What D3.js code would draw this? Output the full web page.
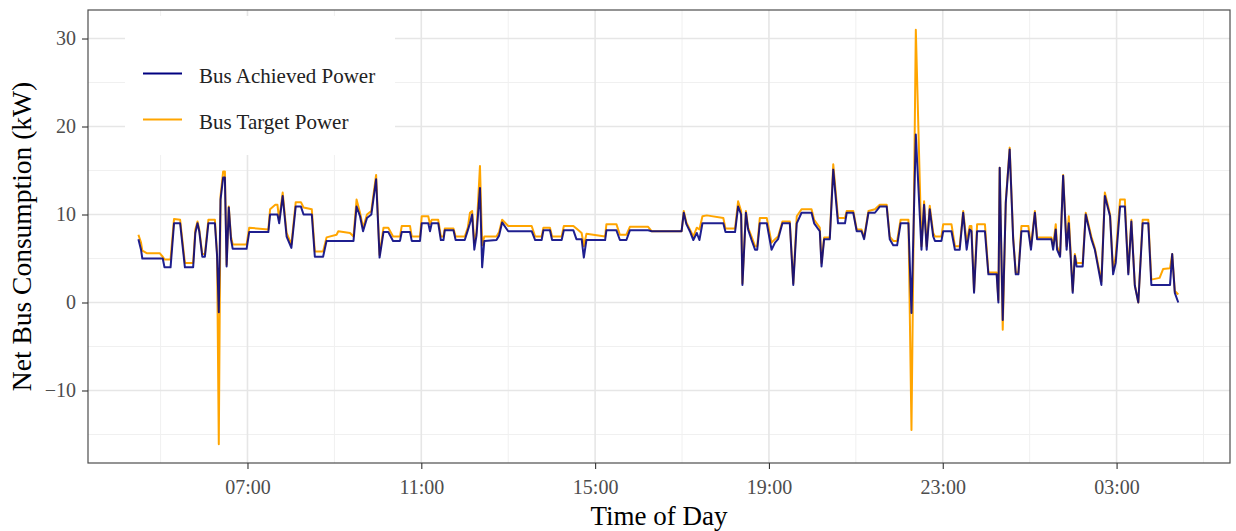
<!DOCTYPE html>
<html lang="en">
  <head>
    <meta charset="utf-8">
    <title>Net Bus Consumption</title>
    <script src="https://cdn.jsdelivr.net/npm/d3@7"></script>
    <style>
      body { margin: 0; background: #fff; }
      text { font-family: "Liberation Serif", "Times New Roman", serif; }
      .axis path { display: none; }
      .axis line { stroke: #333; stroke-width: 1.1; }
      .axis text { fill: #4d4d4d; font-size: 20px; }
    </style>
  </head>
  <body>
    <script>

    //Time of day in hours (values past 24 are after midnight)
    var timeHours = [
      4.49,4.55,4.58,4.68,4.98,5.05,5.09,5.23,5.31,5.45,5.56,5.75,5.80,5.85,5.89,5.96,6.02,6.10,6.25,6.30,
      6.34,6.38,6.44,6.48,6.52,6.57,6.62,6.66,6.98,7.04,7.48,7.52,7.64,7.69,7.73,7.81,7.90,8.01,8.11,8.23,
      8.29,8.48,8.55,8.74,8.82,9.05,9.09,9.36,9.44,9.51,9.59,9.66,9.75,9.85,9.96,10.04,10.13,10.24,10.35,
      10.51,10.55,10.74,10.78,10.97,11.01,11.16,11.20,11.24,11.39,11.45,11.51,11.54,11.74,11.79,12.00,12.07,12.12,12.17,12.22,
      12.27,12.35,12.40,12.45,12.73,12.79,12.86,13.00,13.54,13.62,13.77,13.81,13.96,14.01,14.23,14.28,14.50,14.57,14.69,14.74,
      14.80,15.23,15.26,15.49,15.57,15.72,15.80,16.22,16.30,
      16.99,17.04,17.10,17.18,17.26,17.34,17.40,17.47,17.57,17.95,18.00,18.22,18.29,18.36,18.39,18.47,18.52,18.60,18.68,18.73,
      18.79,18.95,19.06,19.14,19.21,19.31,19.48,19.56,19.64,19.75,19.98,20.04,20.17,20.21,20.27,20.40,20.48,20.59,20.75,20.79,
      20.94,21.02,21.13,21.19,21.29,21.44,21.55,21.71,21.78,21.86,21.95,22.03,22.21,22.28,22.38,
      22.51,22.57,22.63,22.70,22.78,22.82,22.97,23.01,23.20,23.28,23.39,23.47,23.55,23.62,23.66,23.72,23.79,23.97,24.05,24.24,
      24.28,24.31,24.38,24.45,24.54,24.62,24.68,24.74,24.81,24.97,25.03,25.12,25.17,25.50,25.54,25.60,25.63,25.70,25.77,25.85,
      25.90,25.99,26.04,26.08,26.22,26.29,26.42,26.50,26.65,26.73,26.85,26.92,26.98,27.08,27.19,27.27,27.34,27.42,27.50,27.60,
      27.73,27.80,27.99,28.07,28.23,28.28,28.34,28.42
    ];

    //Bus achieved power (kW)
    var achievedKW = [
      7.2,6.0,5.0,5.0,5.0,5.0,4.0,4.0,9.0,9.0,4.0,4.0,7.9,9.0,8.1,5.2,5.2,9.0,9.0,5.3,
      -1.1,11.7,14.2,14.2,4.1,10.8,7.2,6.1,6.1,8.0,8.0,10.0,10.0,10.0,9.0,12.1,7.5,6.2,10.9,10.9,
      10.0,10.0,5.2,5.2,7.0,7.0,7.0,7.0,7.0,10.9,9.8,8.1,9.6,10.0,14.0,5.1,8.0,8.0,7.0,
      7.0,8.0,8.0,7.0,7.0,9.0,9.0,8.1,9.0,9.0,7.1,7.1,8.2,8.2,7.1,7.1,8.2,9.0,10.0,6.0,
      7.6,13.0,4.0,7.0,7.1,7.6,9.1,8.1,8.1,7.1,7.1,8.2,8.2,7.1,7.1,8.2,8.2,7.2,7.2,5.1,
      7.1,7.1,8.2,8.2,7.1,7.1,8.2,8.2,8.1,
      8.1,10.2,8.9,8.1,7.1,7.9,7.1,9.0,9.0,9.0,8.0,8.0,10.9,10.0,2.0,10.2,8.3,7.1,6.0,6.0,
      9.0,9.0,6.0,6.8,7.2,9.0,9.0,2.0,9.0,10.2,10.2,9.0,8.1,4.1,7.2,7.2,15.1,9.0,9.0,10.2,
      10.2,8.1,8.1,7.2,10.2,10.2,10.9,10.9,7.2,6.5,6.5,9.0,9.0,-1.2,19.1,
      6.0,11.1,6.0,10.6,7.5,7.0,7.0,8.1,8.1,6.0,6.0,10.2,6.0,8.3,8.1,1.1,8.1,8.1,3.2,3.2,
      0.0,15.3,-2.0,11.3,17.4,7.2,3.2,3.2,8.1,8.1,6.0,10.2,7.2,7.2,6.0,8.3,6.0,5.2,14.4,6.0,
      9.0,1.1,5.3,4.1,4.1,10.0,7.2,6.0,2.0,12.1,9.8,3.2,4.5,10.9,10.9,3.2,9.2,1.9,0.0,9.0,
      9.0,2.0,2.0,2.0,2.0,5.5,1.1,0.0
    ];

    //Bus target power (kW)
    var targetKW = [
      7.7,6.8,5.9,5.6,5.6,5.2,4.9,4.9,9.5,9.4,4.5,4.5,8.3,9.2,8.3,5.5,5.5,9.4,9.4,5.6,
      -16.1,12.1,14.9,14.9,4.3,10.9,7.5,6.6,6.6,8.5,8.3,10.6,11.1,11.1,9.4,12.5,7.9,6.6,11.4,11.4,
      10.8,10.6,5.8,5.8,7.4,7.7,8.1,7.9,7.5,11.7,10.2,8.5,10.0,10.4,14.5,5.4,8.5,8.5,7.5,
      7.5,8.7,8.7,7.5,7.5,9.8,9.8,8.9,9.4,9.4,7.5,7.5,8.4,8.4,7.5,7.5,8.5,10.2,10.4,6.8,
      8.0,15.5,6.5,7.5,7.5,8.0,9.4,8.7,8.7,7.5,7.5,8.5,8.5,7.5,7.5,8.7,8.7,8.4,7.9,6.4,
      7.8,7.5,8.9,8.9,7.7,7.7,8.6,8.6,8.1,
      8.1,10.4,9.1,8.3,7.5,8.5,8.3,9.8,9.9,9.6,8.4,8.4,11.5,10.4,2.2,10.4,8.5,7.5,6.4,6.4,
      9.6,9.6,6.8,7.2,7.5,9.2,9.2,2.2,9.8,10.6,10.6,9.4,8.5,4.5,7.4,7.4,15.7,9.6,9.6,10.4,
      10.4,8.3,8.3,7.4,10.4,10.6,11.1,11.1,7.5,7.0,7.0,9.4,9.4,-14.5,31.0,
      6.4,11.5,6.4,11.0,7.9,7.5,7.5,8.9,8.9,6.4,6.4,10.4,6.8,8.7,8.7,1.3,8.9,8.9,3.4,3.4,
      0.3,15.3,-3.1,11.5,17.6,7.5,3.4,3.4,8.7,8.7,6.4,10.4,7.4,7.4,6.4,8.9,6.4,5.4,14.5,6.4,
      9.8,1.3,5.5,4.5,4.5,10.2,7.5,6.2,2.4,12.5,10.0,3.6,5.3,11.7,11.7,3.4,9.4,2.0,0.0,9.4,
      9.4,2.6,2.8,3.8,3.9,5.5,1.3,0.9
    ];

    //Axis ticks
    var xTickHours = [7, 11, 15, 19, 23, 27];
    var xTickLabels = ["07:00", "11:00", "15:00", "19:00", "23:00", "03:00"];
    var xMinorHours = [5, 9, 13, 17, 21, 25, 29];
    var yTicks = [-10, 0, 10, 20, 30];
    var yMinor = [-15, -5, 5, 15, 25];

    var seriesNames = ["Bus Achieved Power", "Bus Target Power"];
    var seriesColors = ["#000080", "#ffa500"];

    //Width and height
    var w = 1236;
    var h = 531;
    var margin = {top: 10, right: 6, bottom: 68, left: 88};

    var rows = timeHours.map(function(t, i) {
      return {t: t, achieved: achievedKW[i], target: targetKW[i]};
    });

    //Create scale functions
    var xScale = d3.scaleLinear()
               .domain([3.33, 29.61])
               .range([margin.left, w - margin.right]);

    var yScale = d3.scaleLinear()
               .domain([-18.24, 33.24])
               .range([h - margin.bottom, margin.top]);

    //Create SVG element
    var mySvg = d3.select("body")
          .append("svg")
          .attr("width", w)
          .attr("height", h);

    var x0 = margin.left, x1 = w - margin.right;
    var y0 = h - margin.bottom, y1 = margin.top;

    //Grid lines
    var grid = mySvg.append("g");
    grid.selectAll(".xminor").data(xMinorHours).enter().append("line")
      .attr("x1", function(d) { return xScale(d); }).attr("x2", function(d) { return xScale(d); })
      .attr("y1", y0).attr("y2", y1)
      .attr("stroke", "#f0f0f0").attr("stroke-width", 1);
    grid.selectAll(".yminor").data(yMinor).enter().append("line")
      .attr("x1", x0).attr("x2", x1)
      .attr("y1", function(d) { return yScale(d); }).attr("y2", function(d) { return yScale(d); })
      .attr("stroke", "#f0f0f0").attr("stroke-width", 1);
    grid.selectAll(".xmajor").data(xTickHours).enter().append("line")
      .attr("x1", function(d) { return xScale(d); }).attr("x2", function(d) { return xScale(d); })
      .attr("y1", y0).attr("y2", y1)
      .attr("stroke", "#e6e6e6").attr("stroke-width", 1.6);
    grid.selectAll(".ymajor").data(yTicks).enter().append("line")
      .attr("x1", x0).attr("x2", x1)
      .attr("y1", function(d) { return yScale(d); }).attr("y2", function(d) { return yScale(d); })
      .attr("stroke", "#e6e6e6").attr("stroke-width", 1.6);

    //Lines
    mySvg.append("clipPath").attr("id", "panel")
      .append("rect").attr("x", x0).attr("y", y1).attr("width", x1 - x0).attr("height", y0 - y1);

    var lineTarget = d3.line()
      .x(function(d) { return xScale(d.t); })
      .y(function(d) { return yScale(d.target); });
    var lineAchieved = d3.line()
      .x(function(d) { return xScale(d.t); })
      .y(function(d) { return yScale(d.achieved); });

    var plot = mySvg.append("g").attr("clip-path", "url(#panel)");
    plot.append("path").datum(rows)
      .attr("d", lineTarget)
      .attr("fill", "none").attr("stroke", seriesColors[1]).attr("stroke-width", 2)
      .attr("stroke-linejoin", "round");
    plot.append("path").datum(rows)
      .attr("d", lineAchieved)
      .attr("fill", "none").attr("stroke", seriesColors[0]).attr("stroke-width", 2)
      .attr("stroke-opacity", 0.88).attr("stroke-linejoin", "round");

    //Legend
    var legend = mySvg.append("g");
    legend.append("rect")
      .attr("x", 125).attr("y", 16).attr("width", 270).attr("height", 139)
      .attr("fill", "#fff");
    seriesNames.forEach(function(name, i) {
      var ly = 73.5 + i * 46;
      legend.append("line")
        .attr("x1", 143).attr("x2", 182).attr("y1", ly).attr("y2", ly)
        .attr("stroke", seriesColors[i]).attr("stroke-width", 2);
      legend.append("text")
        .attr("x", 199).attr("y", ly + 9.5)
        .attr("font-size", "21px").attr("fill", "#222")
        .text(name);
    });

    //Panel border
    mySvg.append("rect")
      .attr("x", x0).attr("y", y1).attr("width", x1 - x0).attr("height", y0 - y1)
      .attr("fill", "none").attr("stroke", "#4d4d4d").attr("stroke-width", 1.2);

    //Define axes
    var xAxis = d3.axisBottom(xScale)
      .tickValues(xTickHours)
      .tickSize(6)
      .tickPadding(7)
      .tickFormat(function(d, i) { return xTickLabels[i]; });

    var yAxis = d3.axisLeft(yScale)
      .tickValues(yTicks)
      .tickSize(6)
      .tickPadding(6)
      .tickFormat(d3.format("d"));

    mySvg.append("g")
      .attr("class", "x axis")
      .attr("transform", "translate(0," + y0 + ")")
      .call(xAxis)
      .selectAll("text").attr("dy", "0.9em");

    mySvg.append("g")
      .attr("class", "y axis")
      .attr("transform", "translate(" + x0 + ",0)")
      .call(yAxis);

    //Axis titles
    mySvg.append("text")
      .attr("x", (x0 + x1) / 2).attr("y", 525)
      .attr("text-anchor", "middle")
      .attr("font-size", "27px").attr("fill", "#000")
      .text("Time of Day");

    mySvg.append("text")
      .attr("transform", "translate(31," + ((y0 + y1) / 2) + ") rotate(-90)")
      .attr("text-anchor", "middle")
      .attr("font-size", "27.5px").attr("fill", "#000")
      .text("Net Bus Consumption (kW)");

    </script>
  </body>
</html>
